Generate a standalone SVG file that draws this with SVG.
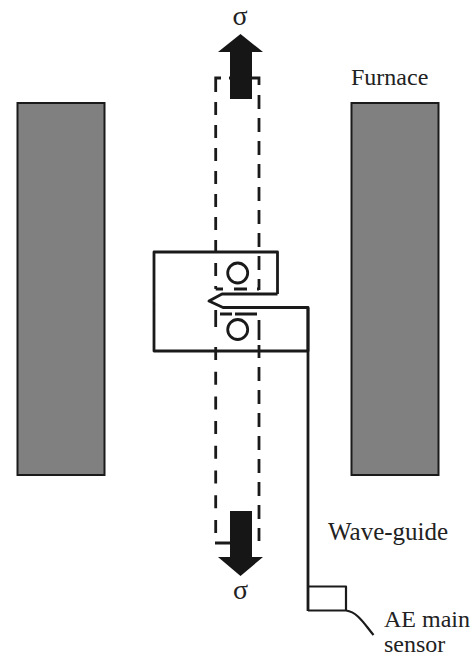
<svg xmlns="http://www.w3.org/2000/svg" width="474" height="657" viewBox="0 0 474 657">
<style>
.t{font-family:"Liberation Serif",serif;font-size:24px;fill:#222}
.g{font-size:28px}
.l{fill:none;stroke:#1a1a1a;stroke-width:2.800;stroke-linejoin:round}
.s{fill:none;stroke:#1a1a1a;stroke-width:2.200;stroke-linejoin:round}
.d{fill:none;stroke:#1a1a1a;stroke-width:2.800}
.f{fill:#808080;stroke:#1a1a1a;stroke-width:2}
.a{fill:#161616}
</style>
<rect width="474" height="657" fill="#fff"/>
<g id="furnace-left"><rect class="f" x="17.500" y="103" width="87" height="372"/></g>
<g id="furnace-right"><rect class="f" x="351.500" y="103" width="87" height="372"/></g>
<g id="furnace-label"><text class="t" x="351" y="85">Furnace</text></g>
<g id="pull-rod-outline">
<path class="d" d="M215.700 92V78H221M229 78H252M252 78H259V85"/>
<path class="d" stroke-dasharray="13 10" d="M215.700 102V289"/>
<path class="d" stroke-dasharray="14 9" d="M259 95V290"/>
<path class="d" d="M215.700 289H223M234 289H247M257 289H259"/>
<path class="d" d="M220 314H232M235 314H257"/>
<path class="d" d="M215.700 310V327"/>
<path class="d" stroke-dasharray="13 11.700" d="M215.700 347V534"/>
<path class="d" d="M259 320V340"/>
<path class="d" d="M259 345V358"/>
<path class="d" stroke-dasharray="14 9" d="M259 367V541"/>
<path class="d" d="M215 543H252"/>
</g>
<g id="specimen">
<path class="l" d="M277.500 294V252H154V351H308V307.500H223L209 301L222 294H277.500"/>
<circle class="l" cx="237.700" cy="273" r="10"/>
<circle class="l" cx="237.700" cy="329.500" r="10"/>
</g>
<g id="arrow-top">
<polygon class="a" points="240.500,34 263,52 252,52 252,99 230,99 230,52 218,52"/>
<text class="t g" x="240" y="25" text-anchor="middle">σ</text>
</g>
<g id="arrow-bottom">
<polygon class="a" points="240.500,576 263,557 252,557 252,511 230,511 230,557 218,557"/>
<text class="t g" x="240.500" y="599" text-anchor="middle">σ</text>
</g>
<g id="connectors">
<path class="l" d="M308 307.500V611"/>
<path class="s" d="M308 586.500H346V610.500H308M346 610.500C358 612 365 625 373.500 635"/>
</g>
<g id="waveguide-label"><text class="t" style="font-size:25px" x="328" y="540">Wave-guide</text></g>
<g id="sensor-label">
<text class="t" x="384" y="627">AE main</text>
<text class="t" x="384" y="651.500">sensor</text>
</g>
</svg>
